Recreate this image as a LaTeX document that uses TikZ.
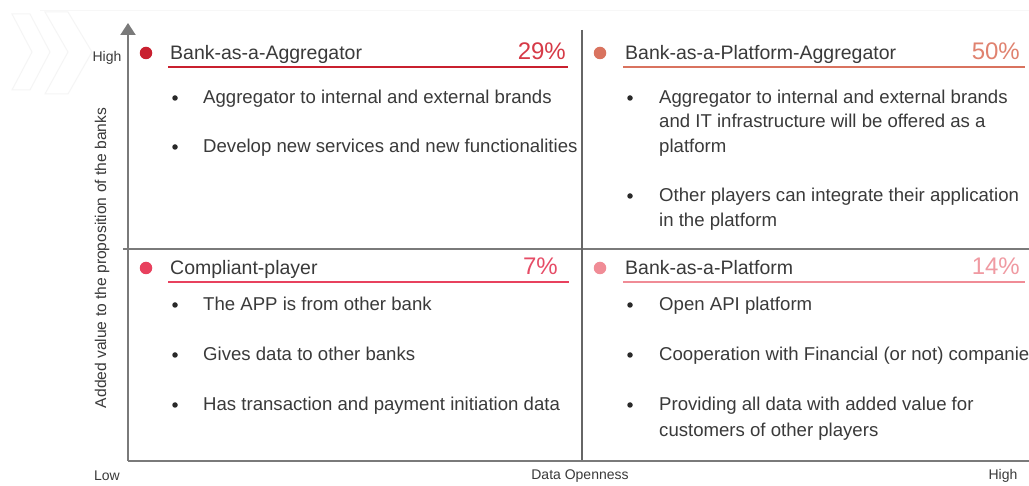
\documentclass[tikz,border=0pt]{standalone}
\usepackage{fontspec}
\setmainfont{Liberation Sans}
\usetikzlibrary{arrows.meta}
\definecolor{txt}{HTML}{3A3A3A}
\definecolor{axc}{HTML}{7A7A7A}
\definecolor{qa}{HTML}{C9202F}
\definecolor{qapct}{HTML}{D63A47}
\definecolor{qb}{HTML}{D9735F}
\definecolor{qbpct}{HTML}{E0826F}
\definecolor{qc}{HTML}{E8415E}
\definecolor{qcpct}{HTML}{E64C66}
\definecolor{qd}{HTML}{F08C96}
\definecolor{qdpct}{HTML}{F09AA2}
\begin{document}
\begin{tikzpicture}[x=1pt,y=-1pt,
  ttl/.style={anchor=base west, inner sep=0, font=\fontsize{19.5}{22}\selectfont, text=txt},
  body/.style={anchor=base west, inner sep=0, font=\fontsize{18.6}{22}\selectfont, text=txt},
  pct/.style={anchor=base east, inner sep=0, font=\fontsize{24}{28}\selectfont},
  qdot/.style={circle, inner sep=0, minimum size=12.5},
  bul/.style={circle, fill=txt!70!black, inner sep=0, minimum size=5.5},
  axlab/.style={inner sep=0, font=\fontsize{14}{16}\selectfont, text=txt},
  uline/.style={line width=1.6},
  chev/.style={draw=gray!8, line width=1, fill=white}
]
\useasboundingbox[fill=white] (0,0) rectangle (1029,486);
% faint background decoration
\draw[gray!6, line width=0.8] (40,10) -- (1029,10);
\draw[chev] (12,14) -- (30,14) -- (50,52) -- (30,90) -- (12,90) -- (32,52) -- cycle;
\draw[chev] (45,12) -- (68,12) -- (92,52) -- (68,94) -- (45,94) -- (68,52) -- cycle;

% axes
\coordinate (o) at (128,461);
\coordinate (ytop) at (128,23);
\coordinate (xend) at (1029,461);
\coordinate (vtop) at (582,30);
\coordinate (vbot) at (582,461);
\coordinate (hl) at (123,249);
\coordinate (hr) at (1029,249);
\draw[axc, line width=1.3] (hl) -- (hr);
\draw[black!60, line width=1.1] (vtop) -- (vbot);
\draw[axc, line width=2, -{Triangle[width=15,length=12]}] (o) -- (ytop);
\draw[axc, line width=2] (o) -- (xend);

% axis labels
\node[axlab] (yhigh) at (107,58) {High};
\node[axlab] (xlow) at (107,476) {Low};
\node[axlab] (xmid) at (580,476) {Data Openness};
\node[axlab] (xhigh) at (1003,476) {High};
\node[axlab, rotate=90, font=\fontsize{15.6}{17}\selectfont] (ylab) at (102,258) {Added value to the proposition of the banks};

% quadrant A (top-left)
\node[qdot, fill=qa] (da) at (146,53) {};
\node[ttl] (ta) at (170,60) {Bank-as-a-Aggregator};
\node[pct, text=qapct] (pa) at (566,60) {29\%};
\draw[qa, uline] (168,67) -- (568,67);
\node[bul] (ba1) at (175,98) {};
\node[body] (ea1) at (203,104) {Aggregator to internal and external brands};
\node[bul] (ba2) at (175,147) {};
\node[body] (ea2) at (203,153) {Develop new services and new functionalities};

% quadrant B (top-right)
\node[qdot, fill=qb] (db) at (600,53) {};
\node[ttl] (tb) at (625,60) {Bank-as-a-Platform-Aggregator};
\node[pct, text=qbpct] (pb) at (1020,60) {50\%};
\draw[qb, uline] (623,67) -- (1025,67);
\node[bul] (bb1) at (630,98) {};
\node[body] (eb1) at (659,104) {Aggregator to internal and external brands};
\node[body] (eb1b) at (659,128) {and IT infrastructure will be offered as a};
\node[body] (eb1c) at (659,153) {platform};
\node[bul] (bb2) at (630,196) {};
\node[body] (eb2) at (659,202) {Other players can integrate their application};
\node[body] (eb2b) at (659,227) {in the platform};

% quadrant C (bottom-left)
\node[qdot, fill=qc] (dc) at (146,268) {};
\node[ttl] (tc) at (170,275) {Compliant-player};
\node[pct, text=qcpct] (pc) at (558,275) {7\%};
\draw[qc, uline] (168,282) -- (569,282);
\node[bul] (bc1) at (175,305) {};
\node[body] (ec1) at (203,311) {The APP is from other bank};
\node[bul] (bc2) at (175,355) {};
\node[body] (ec2) at (203,361) {Gives data to other banks};
\node[bul] (bc3) at (175,405) {};
\node[body] (ec3) at (203,411) {Has transaction and payment initiation data};

% quadrant D (bottom-right)
\node[qdot, fill=qd] (dd) at (600,268) {};
\node[ttl] (td) at (625,275) {Bank-as-a-Platform};
\node[pct, text=qdpct] (pd) at (1020,275) {14\%};
\draw[qd, uline] (623,282) -- (1025,282);
\node[bul] (bd1) at (630,305) {};
\node[body] (ed1) at (659,311) {Open API platform};
\node[bul] (bd2) at (630,355) {};
\node[body] (ed2) at (659,361) {Cooperation with Financial (or not) companies};
\node[bul] (bd3) at (630,405) {};
\node[body] (ed3) at (659,411) {Providing all data with added value for};
\node[body] (ed3b) at (659,436) {customers of other players};
\end{tikzpicture}
\end{document}
